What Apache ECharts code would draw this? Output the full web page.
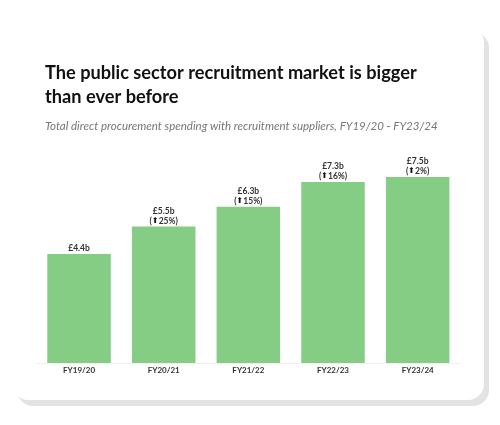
<!DOCTYPE html>
<html>
<head>
<meta charset="utf-8">
<script src="https://cdn.jsdelivr.net/npm/echarts@6/dist/echarts.min.js"></script>
<style>html,body{margin:0;padding:0;background:#fff;}#c{width:500px;height:425px;}</style>
</head>
<body>
<div id="c"></div>
<script>
var categories = ['FY19/20', 'FY20/21', 'FY21/22', 'FY22/23', 'FY23/24'];
var values = [4.4, 5.5, 6.3, 7.3, 7.5];
var growth = [null, 25, 15, 16, 2];
var titleText = 'The public sector recruitment market is bigger\nthan ever before';
var subtitleText = 'Total direct procurement spending with recruitment suppliers, FY19/20 - FY23/24';

var chart = echarts.init(document.getElementById('c'), null, {renderer: 'canvas'});
chart.setOption({
  backgroundColor: '#fff',
  animation: false,
  graphic: [
    {type: 'rect', z: -10, shape: {x: 17, y: 32, width: 472, height: 374, r: 16}, style: {fill: '#e3e3e3'}},
    {type: 'rect', z: -9, shape: {x: 12, y: 27, width: 472, height: 373, r: 16}, style: {fill: '#ffffff'}}
  ],
  title: [
    {text: titleText, left: 40, top: 55.5, padding: 5,
     textStyle: {fontFamily: 'Lato', fontWeight: 'bold', fontSize: 18.2, lineHeight: 24.5, color: '#111'}},
    {text: subtitleText, left: 40, top: 115, padding: 5,
     textStyle: {fontFamily: 'Lato', fontStyle: 'italic', fontWeight: 'normal', fontSize: 11.5, lineHeight: 12, color: '#777'}}
  ],
  grid: {left: 36.7, right: 40, top: 164.6, bottom: 62, containLabel: false},
  xAxis: {
    type: 'category', data: categories,
    axisLine: {show: true, lineStyle: {color: '#f0f0f0', width: 1}},
    axisTick: {show: false},
    axisLabel: {fontFamily: 'Lato', fontSize: 8, fontWeight: 'bold', color: '#333', margin: 3}
  },
  yAxis: {type: 'value', min: 0, max: 8, show: false, splitLine: {show: false}},
  series: [{
    type: 'bar', data: values, barWidth: '75%',
    itemStyle: {color: '#85cc84'},
    label: {
      show: true, position: 'top', distance: 1,
      formatter: function (p) {
        var g = growth[p.dataIndex];
        var s = '{v|£' + p.value.toFixed(1) + 'b}';
        if (g !== null) s += '\n{v|(}{a|⬆}{v|' + g + '%)}';
        return s;
      },
      rich: {
        v: {fontFamily: 'Lato', fontSize: 8.5, fontWeight: 'bold', color: '#333', lineHeight: 9.5},
        a: {fontFamily: 'DejaVu Sans', fontSize: 8, color: '#111', lineHeight: 9.5}
      }
    }
  }]
});
</script>
</body>
</html>
